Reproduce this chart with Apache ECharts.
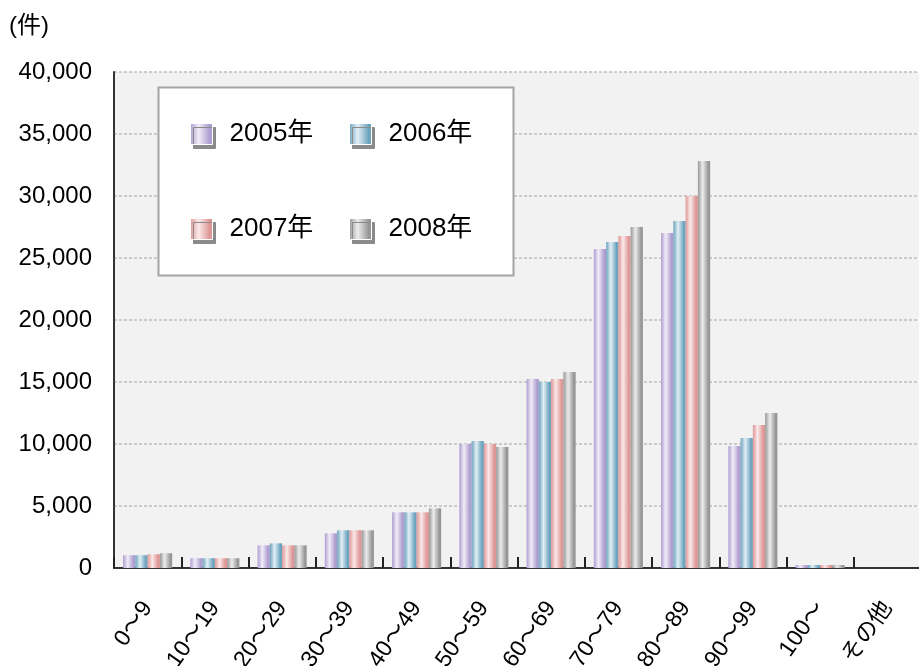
<!DOCTYPE html>
<html>
<head>
<meta charset="utf-8">
<script src="https://cdn.jsdelivr.net/npm/echarts@6/dist/echarts.min.js"></script>
<style>
  html, body { margin: 0; padding: 0; background: #ffffff; }
  #chart { width: 919px; height: 666px; }
</style>
</head>
<body>
<div id="chart"></div>
<script>
// Age-band categories (x axis)
const categories = ['0〜9', '10〜19', '20〜29', '30〜39', '40〜49', '50〜59',
                    '60〜69', '70〜79', '80〜89', '90〜99', '100〜', 'その他'];

// Counts per year (件)
const years = ['2005年', '2006年', '2007年', '2008年'];
const v2005 = [1030, 790, 1830, 2800, 4490, 10000, 15240, 25730, 27020, 9840, 240, 0];
const v2006 = [1030, 790, 1990, 3040, 4490, 10240, 15000, 26290, 27980, 10480, 240, 0];
const v2007 = [1110, 790, 1830, 3040, 4490, 10000, 15240, 26770, 30000, 11530, 240, 0];
const v2008 = [1190, 790, 1830, 3040, 4810, 9760, 15810, 27500, 32820, 12500, 240, 0];

// Y axis range
const yMin = 0, yMax = 40000, yStep = 5000;

const FONT = "'Liberation Sans', 'Noto Sans CJK JP', sans-serif";

// Horizontal shaded fill for each series: dark edge, bright band, dark edge
function shade(dark, light) {
  return new echarts.graphic.LinearGradient(0, 0, 1, 0, [
    { offset: 0, color: dark },
    { offset: 0.38, color: light },
    { offset: 0.85, color: dark },
    { offset: 1, color: dark }
  ]);
}
const fills = [
  shade('#ae9dcf', '#f1edf8'),
  shade('#6ca3be', '#e3eff5'),
  shade('#de9696', '#fbe9e9'),
  shade('#979797', '#ececec')
];
const seriesValues = [v2005, v2006, v2007, v2008];

const chart = echarts.init(document.getElementById('chart'), null, { renderer: 'canvas' });

// One legend per entry so the 2 x 2 layout sits inside the framed box
const legendSpots = [
  { left: 190, top: 121 },
  { left: 349, top: 121 },
  { left: 190, top: 216 },
  { left: 349, top: 216 }
];
const legends = years.map((y, i) => ({
  data: [y],
  left: legendSpots[i].left,
  top: legendSpots[i].top,
  padding: 0,
  z: 20,
  itemWidth: 22,
  itemHeight: 21,
  itemGap: 0,
  itemTextGap: 18,
  selectedMode: false,
  icon: 'rect',
  itemStyle: {
    borderColor: '#ffffff',
    borderWidth: 1,
    shadowColor: '#8a8a8a',
    shadowBlur: 0,
    shadowOffsetX: 3,
    shadowOffsetY: 4
  },
  textStyle: { fontFamily: FONT, fontSize: 26, color: '#000000', padding: [0, 0, 0, 12] }
}));

chart.setOption({
  animation: false,
  backgroundColor: '#ffffff',
  textStyle: { fontFamily: FONT },
  title: {
    text: '(件)',
    left: 9,
    top: 14,
    padding: 0,
    textStyle: { fontFamily: FONT, fontSize: 24, fontWeight: 'normal', color: '#000000' }
  },
  graphic: [{
    type: 'rect',
    z: 10,
    shape: { x: 158.5, y: 87.5, width: 355, height: 188 },
    style: { fill: '#ffffff', stroke: '#a4a4a4', lineWidth: 2 }
  }],
  legend: legends,
  grid: {
    left: 114,
    top: 72,
    width: 807,
    height: 496,
    show: true,
    backgroundColor: '#f2f2f2',
    borderWidth: 0,
    containLabel: false,
    outerBoundsMode: 'none'
  },
  xAxis: {
    type: 'category',
    data: categories,
    boundaryGap: true,
    axisLine: { show: true, lineStyle: { color: '#333333', width: 2 } },
    axisTick: { show: true, inside: true, length: 11, lineStyle: { color: '#222222', width: 2 } },
    axisLabel: {
      interval: 0,
      rotate: 55,
      margin: 36,
      fontSize: 23,
      color: '#000000',
      fontFamily: FONT
    },
    splitLine: { show: false }
  },
  yAxis: {
    type: 'value',
    min: yMin,
    max: yMax,
    interval: yStep,
    axisLine: { show: true, lineStyle: { color: '#333333', width: 2 } },
    axisTick: { show: false },
    axisLabel: {
      margin: 22,
      fontSize: 24,
      color: '#000000',
      fontFamily: FONT,
      formatter: v => v.toLocaleString('en-US')
    },
    splitLine: { show: true, lineStyle: { color: '#bdbdbd', width: 1.5, type: [3, 2] } }
  },
  series: years.map((name, i) => ({
    name: name,
    type: 'bar',
    data: seriesValues[i],
    barGap: '0%',
    barCategoryGap: '27%',
    itemStyle: { color: fills[i] }
  }))
});
</script>
</body>
</html>
